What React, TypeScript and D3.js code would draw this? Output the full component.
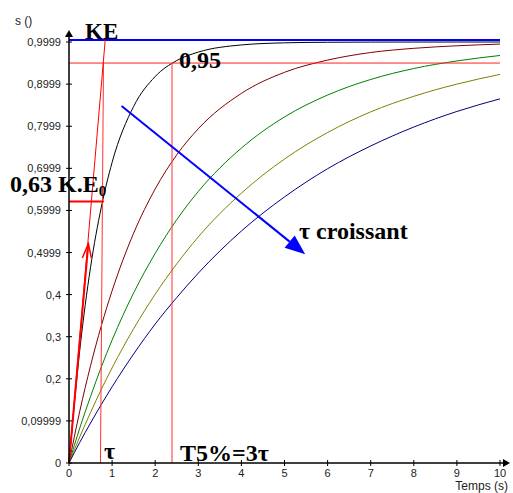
import * as d3 from "d3";

// temps (s) where the curves were read
const times = [0, 0.25, 0.5, 0.75, 1, 1.5, 2, 2.5, 3, 4, 5, 6, 7, 8, 9, 10];

// s(t), smallest tau first
const sBlack = [0, 0.268, 0.465, 0.608, 0.714, 0.847, 0.918, 0.956, 0.976, 0.993, 0.998, 0.9994, 0.9998, 0.9999, 1, 1];
const sDarkRed = [0, 0.123, 0.231, 0.326, 0.409, 0.546, 0.651, 0.732, 0.794, 0.878, 0.928, 0.957, 0.975, 0.985, 0.991, 0.995];
const sGreen = [0, 0.083, 0.158, 0.228, 0.292, 0.404, 0.498, 0.578, 0.645, 0.748, 0.822, 0.874, 0.911, 0.937, 0.955, 0.968];
const sOlive = [0, 0.062, 0.12, 0.175, 0.226, 0.319, 0.401, 0.473, 0.537, 0.641, 0.722, 0.785, 0.834, 0.871, 0.9, 0.923];
const sBlue = [0, 0.049, 0.095, 0.139, 0.181, 0.259, 0.33, 0.393, 0.451, 0.551, 0.632, 0.699, 0.753, 0.798, 0.835, 0.865];

const seriesValues = [sBlack, sDarkRed, sGreen, sOlive, sBlue];
const seriesColors = ["#000000", "#800000", "#008000", "#808000", "#000080"];

const xTicks = [0, 1, 2, 3, 4, 5, 6, 7, 8, 9, 10];
const yTicks = [0, 0.09999, 0.2, 0.3, 0.4, 0.4999, 0.5999, 0.6999, 0.7999, 0.8999, 0.9999];
const yTickLabels = ["0", "0,09999", "0,2", "0,3", "0,4", "0,4999", "0,5999", "0,6999", "0,7999", "0,8999", "0,9999"];

const tau = 0.78;
const tauMark = 0.73;
const t5 = 2.39;
const level63 = 0.621;

export default function App() {
  const width = 513;
  const height = 493;
  const x = d3.scaleLinear().domain([0, 10]).range([69, 500]);
  const y = d3.scaleLinear().domain([0, 1]).range([463, 42]);

  const line = d3
    .line<number>()
    .x((_, i) => x(times[i]))
    .y((d) => y(d))
    .curve(d3.curveMonotoneX);

  const serif = "'Liberation Serif', 'Times New Roman', serif";
  const sans = "'Liberation Sans', Arial, sans-serif";

  // blue "tau croissant" arrow
  const ax1 = x(1.22), ay1 = y(0.848);
  const ax2 = x(5.48), ay2 = y(0.496);
  const ang = Math.atan2(ay2 - ay1, ax2 - ax1);
  const hl = 20, hw = 8;
  const bx = ax2 - hl * Math.cos(ang), by = ay2 - hl * Math.sin(ang);
  const head = [
    [ax2, ay2],
    [bx + hw * Math.sin(ang), by - hw * Math.cos(ang)],
    [bx - hw * Math.sin(ang), by + hw * Math.cos(ang)],
  ];

  return (
    <svg width={width} height={height} style={{ position: "absolute", left: 0, top: 0, background: "#fff" }}>
      {/* curves */}
      {seriesValues.map((vals, i) => (
        <path key={i} d={line(vals) ?? ""} fill="none" stroke={seriesColors[i]} strokeWidth={1} />
      ))}

      {/* annotations */}
      <line x1={x(0)} x2={x(10)} y1={y(1.005)} y2={y(1.005)} stroke="#0000ff" strokeWidth={2} />
      <line x1={x(0)} x2={x(10)} y1={y(0.95)} y2={y(0.95)} stroke="#ff2020" strokeWidth={1} />
      <line x1={x(t5)} x2={x(t5)} y1={y(0)} y2={y(0.95)} stroke="#ff3030" strokeWidth={1} />
      <line x1={x(tauMark)} x2={x(0.8)} y1={y(0)} y2={y(0.95)} stroke="#ff3030" strokeWidth={1} />
      <line x1={x(0)} x2={x(0.84)} y1={y(0)} y2={y(1.005)} stroke="#ff0000" strokeWidth={1} />
      <line x1={x(0)} x2={x(0.448)} y1={y(0)} y2={y(0.521)} stroke="#ff0000" strokeWidth={2} />
      <polyline
        points={`${x(0.31)},${y(0.487)} ${x(0.448)},${y(0.521)} ${x(0.52)},${y(0.487)}`}
        fill="none"
        stroke="#ff0000"
        strokeWidth={1.5}
      />
      <line x1={x(0)} x2={x(tau + 0.03)} y1={y(level63)} y2={y(level63)} stroke="#ff0000" strokeWidth={2} />
      <line x1={ax1} y1={ay1} x2={bx} y2={by} stroke="#0000ff" strokeWidth={2} />
      <polygon points={head.map((p) => p.join(",")).join(" ")} fill="#0000ff" />

      {/* axes */}
      <line x1={x(0)} x2={x(0)} y1={y(0)} y2={33} stroke="#000" strokeWidth={1.5} />
      <polygon points={`${x(0)},30 ${x(0) - 4},37 ${x(0) + 4},37`} fill="#000" />
      <line x1={x(0)} x2={507} y1={y(0)} y2={y(0)} stroke="#000" strokeWidth={1.5} />
      <polygon points={`510,${y(0)} 503,${y(0) - 4} 503,${y(0) + 4}`} fill="#000" />
      {yTicks.map((t, i) => (
        <g key={t}>
          <line x1={x(0) - 3} x2={x(0) + 3} y1={y(t)} y2={y(t)} stroke="#000" />
          <text x={61} y={y(t) + 4} textAnchor="end" fontFamily={sans} fontSize={11} fill="#222">
            {yTickLabels[i]}
          </text>
        </g>
      ))}
      {xTicks.map((t) => (
        <g key={t}>
          <line x1={x(t)} x2={x(t)} y1={y(0) - 3} y2={y(0) + 3} stroke="#000" />
          <text x={x(t)} y={y(0) + 14} textAnchor="middle" fontFamily={sans} fontSize={11} fill="#222">
            {t}
          </text>
        </g>
      ))}
      <text x={15} y={25} fontFamily={sans} fontSize={12} fill="#222">s ()</text>
      <text x={508} y={490} textAnchor="end" fontFamily={sans} fontSize={12} fill="#222">Temps (s)</text>

      {/* labels */}
      <g fontFamily={serif} fontWeight="bold" fill="#000">
        <text x={85} y={39} fontSize={23}>KE</text>
        <text x={179} y={68} fontSize={24}>0,95</text>
        <text x={10} y={192} fontSize={24}>
          0,63 K.E<tspan fontSize={15} dy={4}>0</tspan>
        </text>
        <text x={299} y={239} fontSize={24}>τ croissant</text>
        <text x={104} y={459} fontSize={24}>τ</text>
        <text x={180} y={461} fontSize={24}>T5%=3τ</text>
      </g>
    </svg>
  );
}
